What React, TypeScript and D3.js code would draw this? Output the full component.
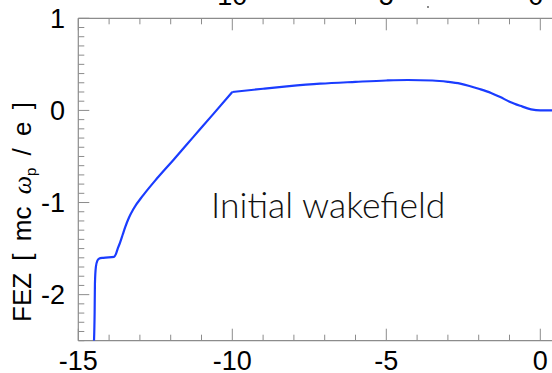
import React from "react";
import * as d3 from "d3";

const xRise = [-14.49, -14.47, -14.46, -14.43, -14.38, -14.33, -14.19, -13.84, -13.78, -13.72, -13.65, -13.56, -13.48, -13.35, -13.21, -12.89, -12.45, -11.92, -11.27, -10.62, -10.0];
const fezRise = [-2.5, -2.2, -1.88, -1.70, -1.63, -1.61, -1.60, -1.59, -1.56, -1.50, -1.44, -1.35, -1.27, -1.16, -1.07, -0.92, -0.74, -0.54, -0.29, -0.04, 0.20];
const xTail = [-10.0, -9.0, -8.23, -7.15, -6.0, -5.0, -4.3, -3.5, -3.0, -2.6, -2.3, -2.0, -1.6, -1.3, -1.0, -0.65, -0.3, 0.0, 0.5];
const fezTail = [0.20, 0.235, 0.26, 0.29, 0.31, 0.325, 0.33, 0.325, 0.31, 0.29, 0.265, 0.235, 0.19, 0.145, 0.095, 0.05, 0.012, 0.0, 0.0];

const xMajorTicks = [-15, -10, -5, 0];
const xMinorTicks = d3.range(-15, 1, 1);
const yMajorTicks = [-2, -1, 0, 1];
const yMinorTicks = d3.range(-25, 11, 1).map((v) => v / 10);
const upperPanelLabels = ["-10", "-5", "0"];
const upperPanelLabelX = [-10.15, -5.15, -0.15];

const W = 552;
const H = 373;
const left = 78.3;
const top = 18.3;
const bottom = 340.7;
const right = 555.7;

export default function App() {
  const x = d3.scaleLinear().domain([-15, 0.5]).range([left, right]);
  const y = d3.scaleLinear().domain([-2.5, 1]).range([bottom, top]);
  const line = d3
    .line<[number, number]>()
    .x((d) => x(d[0]))
    .y((d) => y(d[1]))
    .curve(d3.curveMonotoneX);
  const rise = xRise.map((v, i) => [v, fezRise[i]] as [number, number]);
  const tail = xTail.map((v, i) => [v, fezTail[i]] as [number, number]);
  const axisColor = "#8c8c8c";
  const tickFont = "'Liberation Sans Narrow', 'Arial Narrow', 'Liberation Sans', Arial, sans-serif";
  return (
    <svg width={W} height={H} style={{ position: "absolute", left: 0, top: 0, background: "#fff" }}>
      <defs>
        <clipPath id="plotclip">
          <rect x={left} y={top} width={right - left} height={bottom - top} />
        </clipPath>
      </defs>
      {upperPanelLabels.map((t, i) => (
        <text key={"u" + i} x={x(upperPanelLabelX[i])} y={5} textAnchor="middle" fontSize={27} fontFamily={tickFont} fill="#000">
          {t}
        </text>
      ))}
      <circle cx={428} cy={7} r={0.9} fill="#555" />
      <line x1={left} x2={right} y1={top} y2={top} stroke={axisColor} strokeWidth={1.2} />
      <line x1={left} x2={right} y1={bottom} y2={bottom} stroke={axisColor} strokeWidth={1.2} />
      <line x1={left} x2={left} y1={top} y2={bottom} stroke={axisColor} strokeWidth={1.2} />
      {xMinorTicks.map((t) => {
        const major = xMajorTicks.includes(t);
        const len = major ? 12 : 6;
        return (
          <g key={"xt" + t}>
            <line x1={x(t)} x2={x(t)} y1={bottom} y2={bottom - len} stroke={axisColor} strokeWidth={1} />
            <line x1={x(t)} x2={x(t)} y1={top} y2={top + len} stroke={axisColor} strokeWidth={1} />
          </g>
        );
      })}
      {yMinorTicks.map((t) => {
        const major = yMajorTicks.some((m) => Math.abs(m - t) < 1e-9);
        const len = major ? 11 : 6;
        return <line key={"yt" + t} x1={left} x2={left + len} y1={y(t)} y2={y(t)} stroke={axisColor} strokeWidth={1} />;
      })}
      {xMajorTicks.map((t) => (
        <text key={"xl" + t} x={x(t)} y={370} textAnchor="middle" fontSize={27} fontFamily={tickFont} fill="#000">
          {t}
        </text>
      ))}
      {yMajorTicks.map((t) => (
        <text key={"yl" + t} x={65} y={y(t)} dy="0.36em" textAnchor="end" fontSize={27} fontFamily={tickFont} fill="#000">
          {t}
        </text>
      ))}
      <text
        transform={`translate(31, 212) rotate(-90)`}
        textAnchor="middle"
        fontSize={26}
        fontFamily="'Liberation Sans', Arial, sans-serif"
        fill="#000"
        wordSpacing={5}
      >
        FEZ [ mc{" "}
        <tspan fontFamily="'Liberation Serif', 'Times New Roman', serif" fontStyle="italic">
          ω
        </tspan>
        <tspan fontSize={15} dy={5}>
          p
        </tspan>
        <tspan dy={-5}> / e ]</tspan>
      </text>
      <g clipPath="url(#plotclip)">
        <path d={line(rise) || ""} fill="none" stroke="#1a3cff" strokeWidth={2.2} strokeLinejoin="round" />
        <path d={line(tail) || ""} fill="none" stroke="#1a3cff" strokeWidth={2.2} strokeLinejoin="round" />
      </g>
      <text x={211} y={218} fontSize={35.5} fontFamily="Lato, 'Open Sans', sans-serif" fontWeight={300} fill="#111">
        Initial wakefield
      </text>
    </svg>
  );
}
